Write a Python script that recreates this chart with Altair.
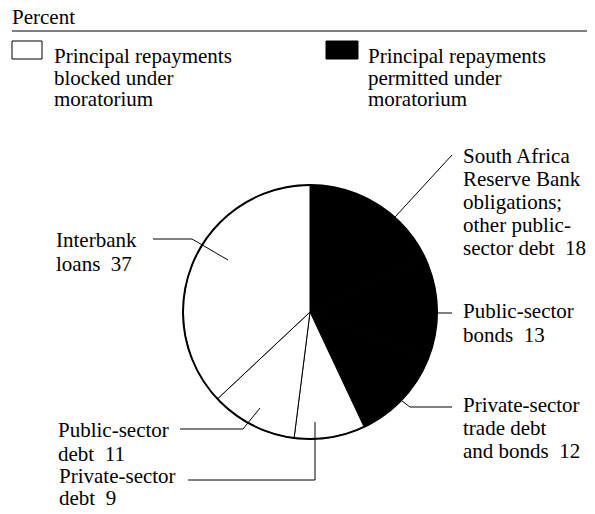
import math
import altair as alt
import pandas as pd

# ---------------- data ----------------
categories = [
    "South Africa Reserve Bank obligations; other public-sector debt",
    "Public-sector bonds",
    "Private-sector trade debt and bonds",
    "Private-sector debt",
    "Public-sector debt",
    "Interbank loans",
]
values = [18, 13, 12, 9, 11, 37]
status = ["permitted", "permitted", "permitted", "blocked", "blocked", "blocked"]
label_lines = [
    ["South Africa", "Reserve Bank", "obligations;", "other public-", "sector debt\u200218"],
    ["Public-sector", "bonds\u200213"],
    ["Private-sector", "trade debt", "and bonds\u200212"],
    ["Private-sector", "debt\u20029"],
    ["Public-sector", "debt\u200211"],
    ["Interbank", "loans\u200237"],
]
status_names = ["blocked", "permitted"]
legend_lines = [
    ["Principal repayments", "blocked under", "moratorium"],
    ["Principal repayments", "permitted under", "moratorium"],
]
unit_title = "Percent"

# ---------------- layout (page pixel coordinates) ----------------
W, H = 579, 498
FONT = "Liberation Serif"
FS = 21
CX, CY, R = 310, 312, 127
label_anchor = [(463, 163), (463, 318), (463, 412), (59, 483), (58, 437), (56, 247)]
label_lh = [23, 24, 23, 22, 24, 24]
leaders = [
    [(395, 217), (452, 155)],
    [(437, 313), (452, 313)],
    [(402, 401), (410, 407), (452, 407)],
    [(188, 480), (315, 480), (315, 422)],
    [(180, 429), (243, 429), (260, 408)],
    [(153, 239), (192, 239), (228, 260)],
]
legend_box = [(12, 41, 42, 59), (326, 41, 358, 59)]
legend_text_x = [54, 368]
legend_y0, legend_lh = 63, 21.5

xs = alt.Scale(domain=[8, 8 + W])
ys = alt.Scale(domain=[8, 8 + H], reverse=True)


def X(f):
    return alt.X(f, type="quantitative", scale=xs, axis=None)


def Y(f):
    return alt.Y(f, type="quantitative", scale=ys, axis=None)


# pie
pie_df = pd.DataFrame({"category": categories, "value": values,
                       "status": status, "order": list(range(len(values)))})
pie = alt.Chart(pie_df).mark_arc(outerRadius=R, stroke="black", strokeWidth=1).encode(
    theta=alt.Theta("value:Q", stack=True),
    order=alt.Order("order:Q"),
    color=alt.Color("status:N", scale=alt.Scale(domain=status_names, range=["white", "black"]), legend=None),
    x=alt.value(CX - 8),
    y=alt.value(CY - 8),
)
outline = alt.Chart(pd.DataFrame({"a": [0]})).mark_arc(
    theta=0, theta2=2 * math.pi, outerRadius=R, fill="white", fillOpacity=0,
    stroke="black", strokeWidth=2
).encode(x=alt.value(CX - 8), y=alt.value(CY - 8))

# leader lines
lrows = []
for i, pts in enumerate(leaders):
    for k, (px, py) in enumerate(pts):
        lrows.append({"leader": i, "k": k, "x": px, "y": py})
lead = alt.Chart(pd.DataFrame(lrows)).mark_line(color="black", strokeWidth=1).encode(
    x=X("x"), y=Y("y"), detail="leader:N", order="k:Q")

# slice labels, legend labels and unit title
trows = []
for i, lines in enumerate(label_lines):
    for j, t in enumerate(lines):
        trows.append({"t": t, "x": label_anchor[i][0], "y": label_anchor[i][1] + j * label_lh[i]})
for i, lines in enumerate(legend_lines):
    for j, t in enumerate(lines):
        trows.append({"t": t, "x": legend_text_x[i], "y": legend_y0 + j * legend_lh})
trows.append({"t": unit_title, "x": 12, "y": 24})
texts = alt.Chart(pd.DataFrame(trows)).mark_text(
    align="left", baseline="alphabetic", font=FONT, fontSize=FS, color="black"
).encode(x=X("x"), y=Y("y"), text="t:N")

# legend boxes
brow = [{"s": s, "x": b[0], "y": b[1], "x2": b[2], "y2": b[3]} for s, b in zip(status_names, legend_box)]
boxes = alt.Chart(pd.DataFrame(brow)).mark_rect(stroke="black", strokeWidth=1).encode(
    x=X("x"), x2="x2", y=Y("y"), y2="y2",
    color=alt.Color("s:N", scale=alt.Scale(domain=status_names, range=["white", "black"]), legend=None),
)

# header rule
rule = alt.Chart(pd.DataFrame({"x": [12], "x2": [8 + W], "y": [31]})).mark_rule(
    color="black", strokeWidth=1.2).encode(x=X("x"), x2="x2", y=Y("y"))

chart = alt.layer(rule, boxes, pie, outline, lead, texts).properties(
    width=W, height=H, padding=0, autosize=alt.AutoSizeParams(type="none")
).configure_view(stroke=None)

chart.save("out.html", embed_options={"renderer": "svg", "actions": False})
